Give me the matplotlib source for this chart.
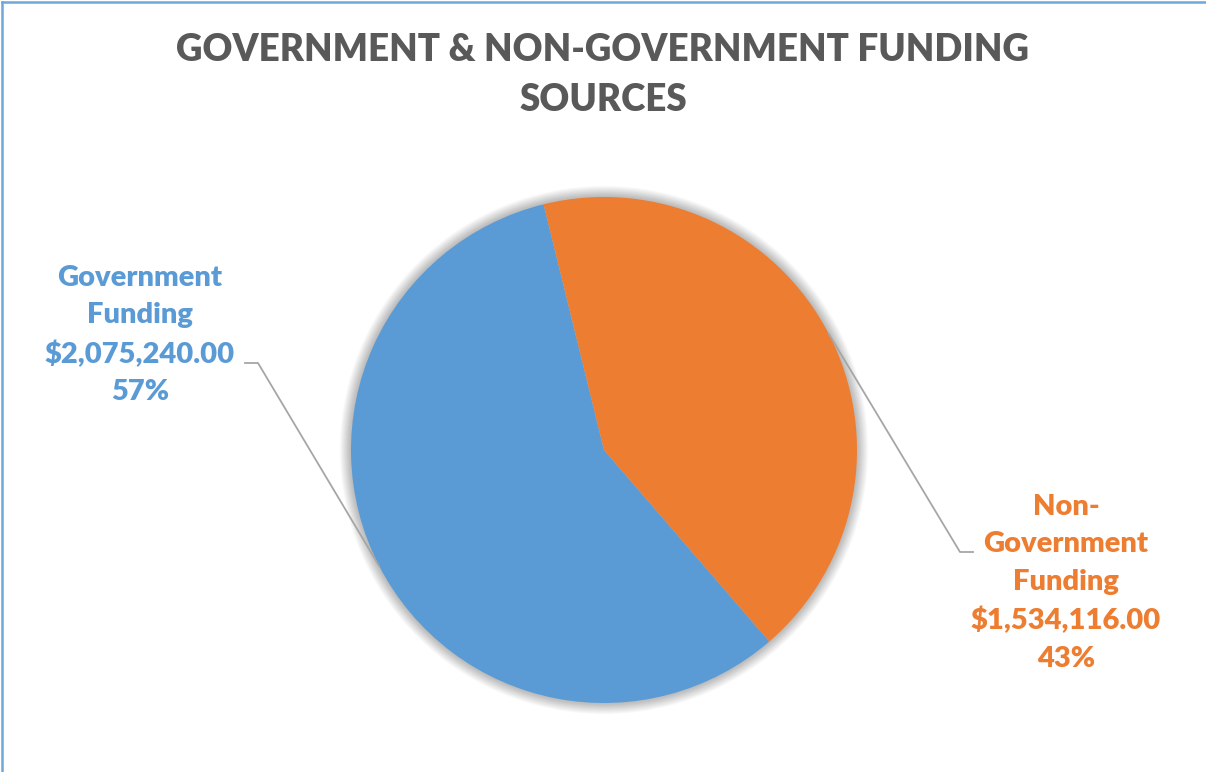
import numpy as np
import matplotlib
matplotlib.use("Agg")
import matplotlib.pyplot as plt
from matplotlib.patches import Circle

# funding split
labels = ["Government\nFunding", "Non-\nGovernment\nFunding"]
amounts = [2075240.00, 1534116.00]
colors = ["#5B9BD5", "#ED7D31"]

W, H = 1206, 772
fig = plt.figure(figsize=(W / 100, H / 100), dpi=100)
ax = fig.add_axes([0, 0, 1, 1])

cx, cy, r = 604, H - 450, 253

# soft shadow ring behind the pie
for k in range(14, 0, -1):
    ax.add_patch(Circle((cx, cy), r + k * 0.8, color="#000000", alpha=0.018, lw=0, zorder=1))

wedges, _ = ax.pie(amounts, colors=colors, startangle=-49.2, counterclock=False,
                   center=(cx, cy), radius=r, wedgeprops=dict(lw=0))
for w in wedges:
    w.set_zorder(2)

# pie() resets the limits, so set pixel-based limits afterwards
ax.set_xlim(0, W)
ax.set_ylim(0, H)
ax.set_aspect("equal")
ax.axis("off")

total = sum(amounts)
font = ["Lato", "DejaVu Sans"]

# data labels with leader lines
label_pos = [(140, H - 335), (1066, H - 583)]
elbow = [((245, H - 363), (258, H - 363)), ((973, H - 552), (960, H - 552))]
for w, lab, amt, col, (tx, ty), (p0, p1) in zip(wedges, labels, amounts, colors, label_pos, elbow):
    mid = np.deg2rad((w.theta1 + w.theta2) / 2)
    ex, ey = cx + r * np.cos(mid), cy + r * np.sin(mid)
    ax.plot([p0[0], p1[0], ex], [p0[1], p1[1], ey], color="#A6A6A6", lw=1.3, zorder=3)
    txt = f"{lab}\n${amt:,.2f}\n{amt / total:.0%}"
    ax.text(tx, ty, txt, ha="center", va="center", color=col, fontsize=21,
            fontweight="heavy", family=font, linespacing=1.55, zorder=4)

ax.text(W / 2, H - 75, "GOVERNMENT & NON-GOVERNMENT FUNDING\nSOURCES", ha="center",
        va="center", color="#595959", fontsize=26.5, fontweight="heavy", family=font,
        linespacing=1.58)

# chart border (left and top edges)
ax.plot([1.5, 1.5], [0, H - 1.5], color="#6FA6DB", lw=1.8, clip_on=False)
ax.plot([1.5, W], [H - 1.5, H - 1.5], color="#6FA6DB", lw=1.8, clip_on=False)

fig.savefig("out.png", dpi=100, facecolor="white")
